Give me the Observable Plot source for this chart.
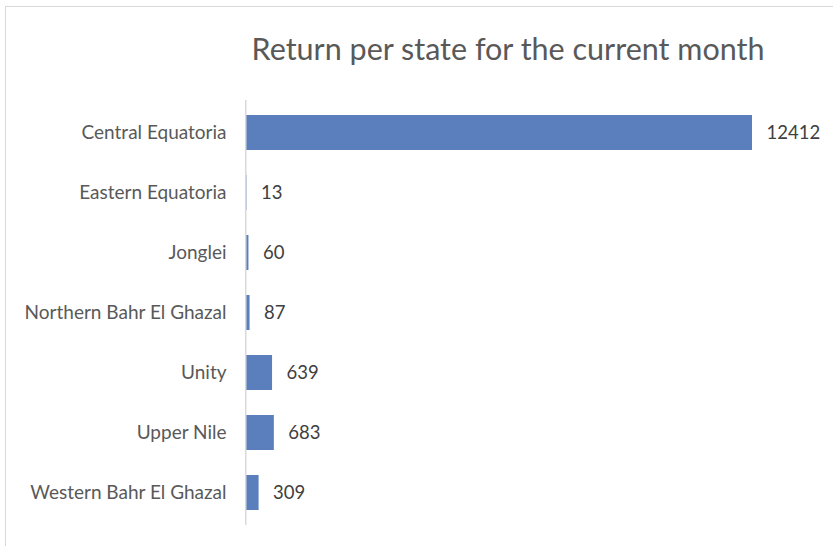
<!DOCTYPE html>
<html>
<head>
<meta charset="utf-8">
<script src="https://cdn.jsdelivr.net/npm/d3@7"></script>
<script src="https://cdn.jsdelivr.net/npm/@observablehq/plot@0.6"></script>
<style>
  html, body { margin: 0; padding: 0; background: #fff; }
  body { width: 833px; height: 546px; position: relative; overflow: hidden; font-family: Lato, "Noto Sans", sans-serif; }
  #frame { position: absolute; left: 5px; top: 6px; width: 900px; height: 600px; border: 1.5px solid #d9d9d9; box-sizing: border-box; }
  #title { position: absolute; left: 0; top: 28px; width: 100%; padding-left: 183px; box-sizing: border-box; text-align: center; font-size: 30.5px; color: #595959; line-height: 40px; }
  #chart { position: absolute; left: 0; top: 88px; }
</style>
</head>
<body>
<div id="frame"></div>
<div id="title">Return per state for the current month</div>
<div id="chart"></div>
<script>
const states = ["Central Equatoria", "Eastern Equatoria", "Jonglei", "Northern Bahr El Ghazal", "Unity", "Upper Nile", "Western Bahr El Ghazal"];
const returns = [12412, 13, 60, 87, 639, 683, 309];

const data = states.map((s, i) => ({state: s, value: returns[i]}));

const chart = Plot.plot({
  width: 833,
  height: 458,
  marginLeft: 246,
  marginRight: 81,
  marginTop: 12,
  marginBottom: 21,
  style: {fontFamily: "Lato, 'Noto Sans', sans-serif", background: "transparent"},
  x: {domain: [0, 12412], axis: null},
  y: {domain: states, paddingInner: 0.41, paddingOuter: 0.205, label: null},
  marks: [
    Plot.barX(data, {x: "value", y: "state", fill: "#5b7fbc"}),
    Plot.ruleX([0], {stroke: "#d9d9d9", strokeWidth: 1.5, dx: -0.75}),
    Plot.axisY({tickSize: 0, tickPadding: 20, fontSize: 19, color: "#595959", label: null}),
    Plot.text(data, {x: "value", y: "state", text: d => String(d.value), textAnchor: "start", dx: 14, fontSize: 18.5, fill: "#404040"})
  ]
});
document.getElementById("chart").appendChild(chart);
</script>
</body>
</html>
